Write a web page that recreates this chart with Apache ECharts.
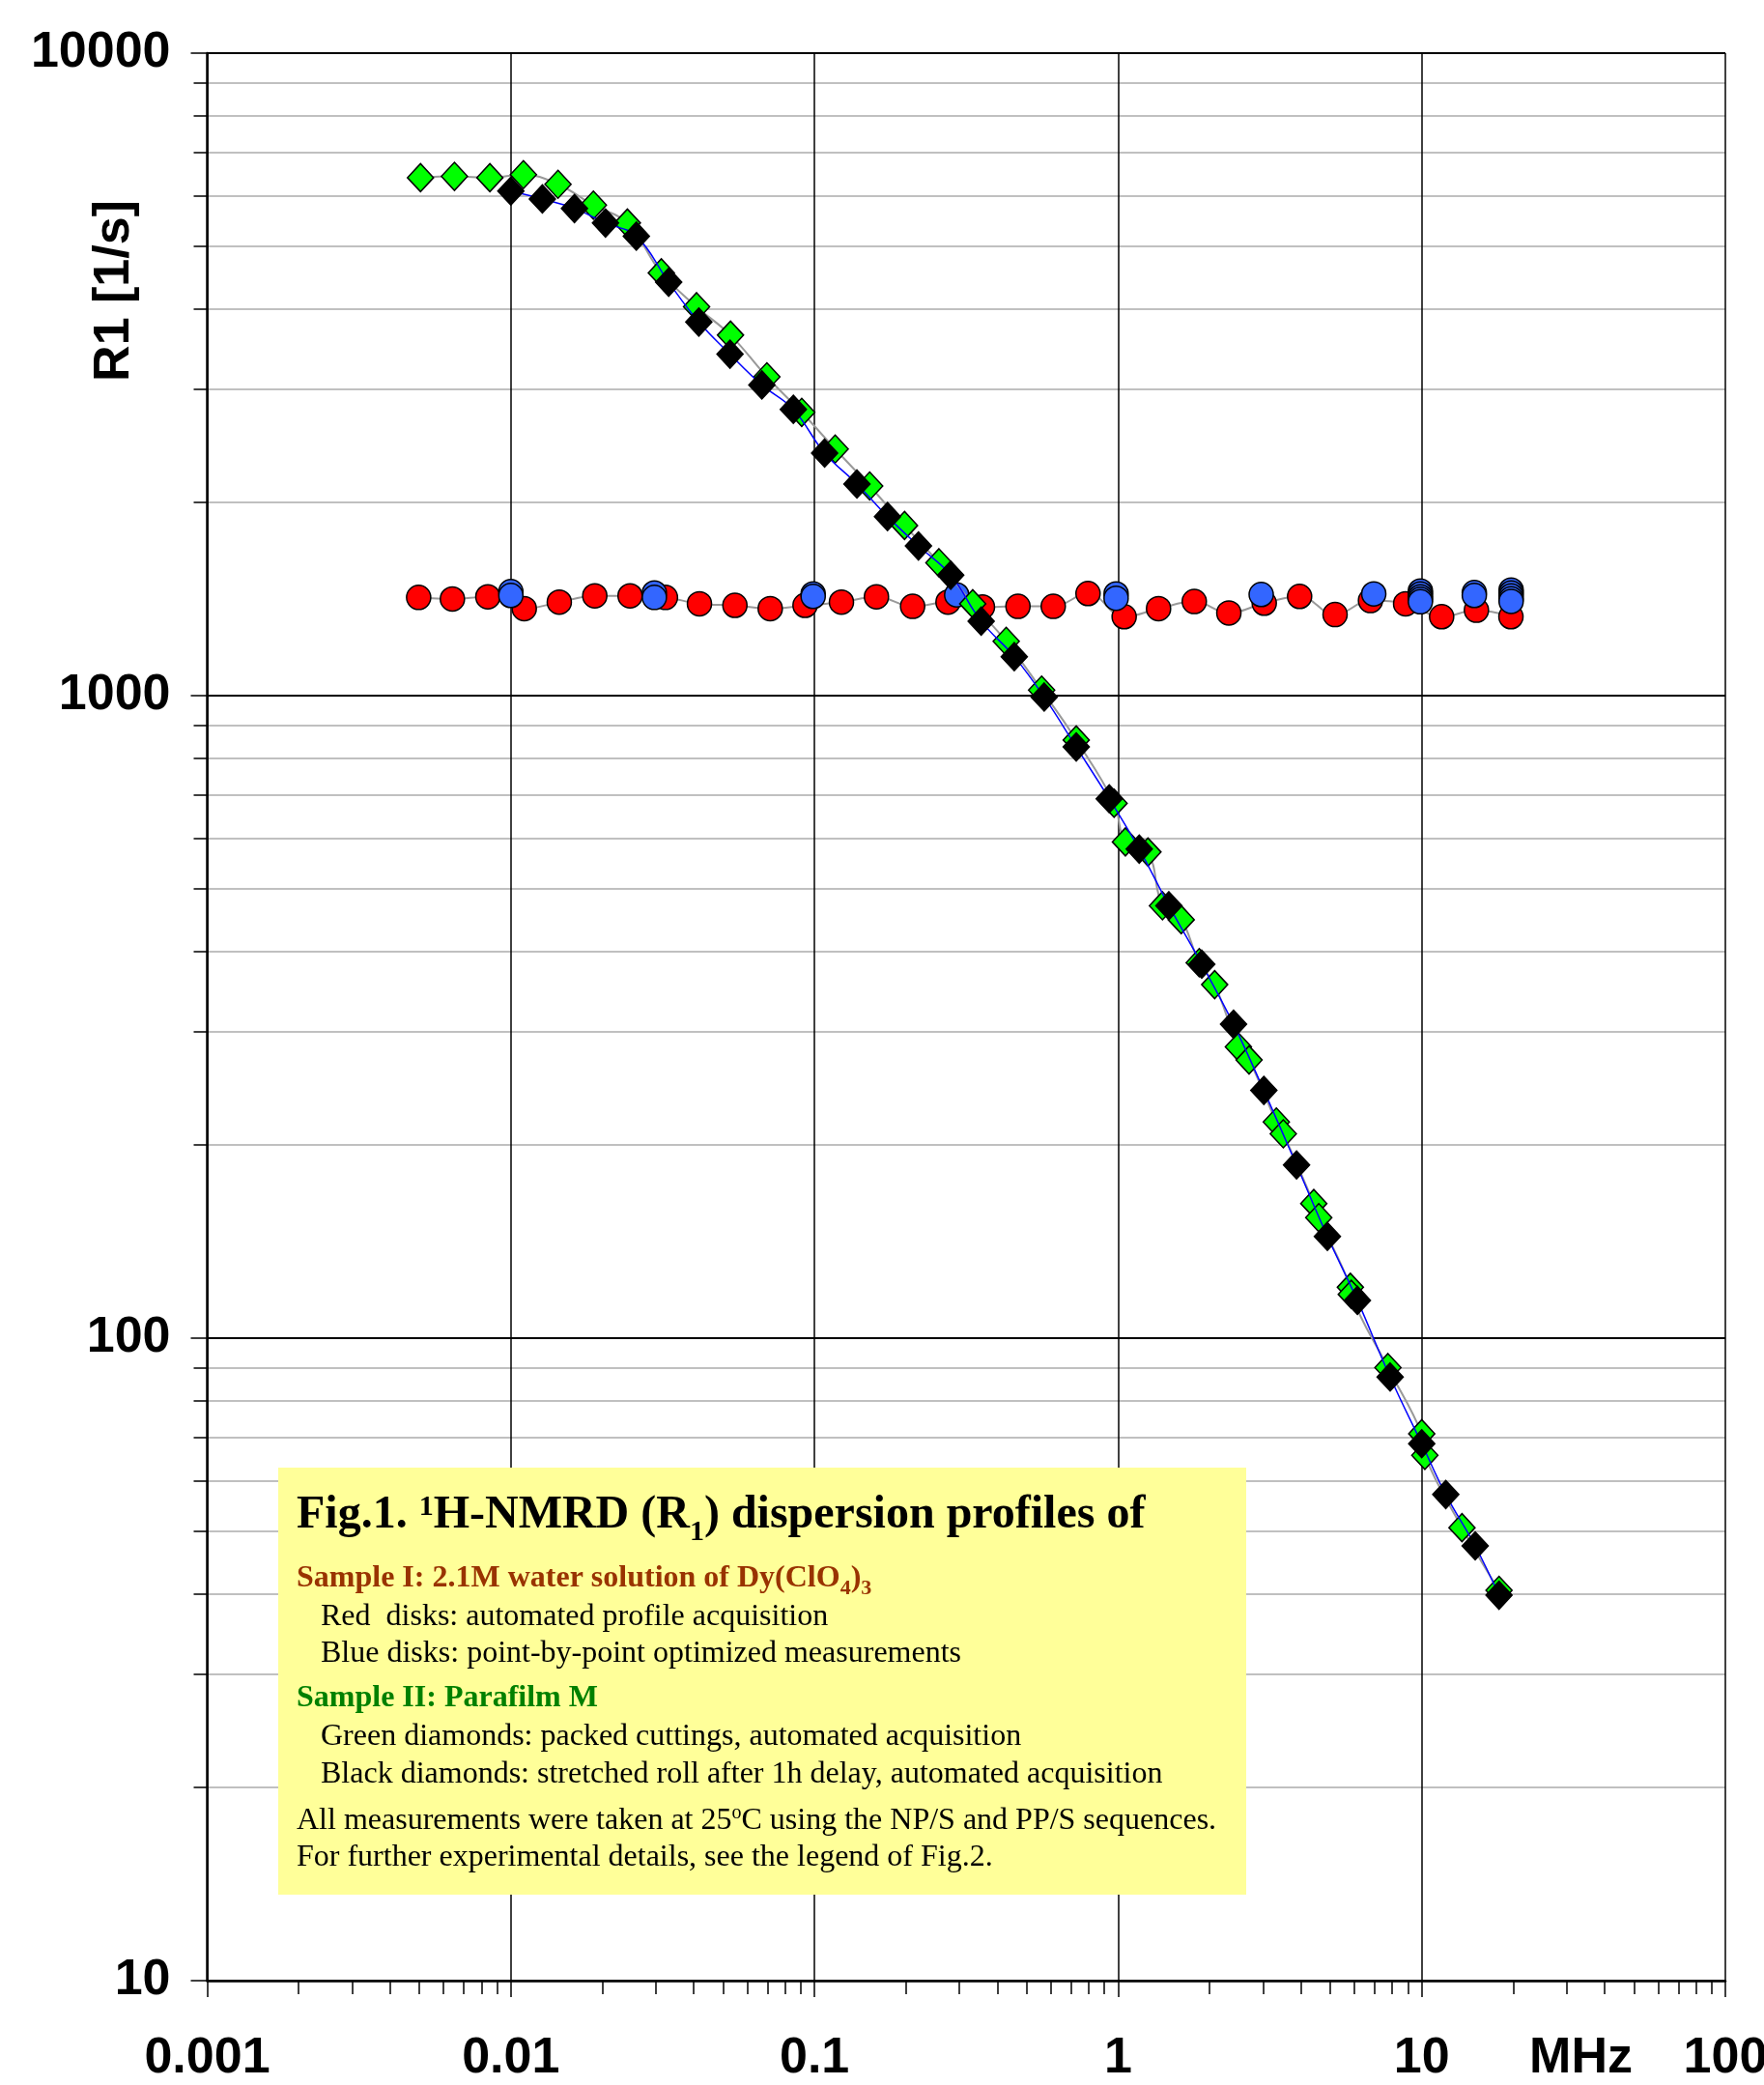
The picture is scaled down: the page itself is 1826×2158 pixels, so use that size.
<!DOCTYPE html>
<html>
<head>
<meta charset="utf-8">
<style>
  html, body { margin: 0; padding: 0; background: #ffffff; }
  #chart { width: 1826px; height: 2158px; }
</style>
<script src="https://cdn.jsdelivr.net/npm/echarts@6/dist/echarts.min.js"></script>
</head>
<body>
<div id="chart"></div>
<script>
// 1H NMRD relaxation rates: [frequency in MHz, R1 in 1/s]

// Sample I, automated profile acquisition
const redDisks = [
  [0.00497, 1422], [0.00642, 1414], [0.0084, 1425], [0.01107, 1366], [0.01444, 1398],
  [0.0189, 1430], [0.0247, 1430], [0.0323, 1422], [0.0418, 1390], [0.0547, 1382],
  [0.0715, 1366], [0.0931, 1382], [0.1227, 1398], [0.160, 1425], [0.2105, 1377],
  [0.2753, 1398], [0.3575, 1374], [0.468, 1377], [0.6115, 1377], [0.796, 1442],
  [1.047, 1327], [1.359, 1366], [1.782, 1401], [2.316, 1345], [3.029, 1393],
  [3.961, 1427], [5.183, 1337], [6.78, 1406], [8.85, 1390], [11.63, 1327],
  [15.14, 1358], [19.67, 1327]
];

// Sample I, point-by-point optimized measurements
const blueDisks = [
  [0.01, 1452], [0.01, 1432], [0.0297, 1445], [0.0297, 1422], [0.099, 1440],
  [0.099, 1427], [0.294, 1435], [0.985, 1440], [0.985, 1418], [2.96, 1437],
  [6.95, 1440], [9.9, 1455], [9.9, 1440], [9.9, 1425], [9.9, 1412], [9.9, 1400],
  [14.9, 1447], [14.9, 1432], [19.7, 1460], [19.7, 1445], [19.7, 1430],
  [19.7, 1415], [19.7, 1402]
];

// Sample II, packed cuttings
const greenDiamonds = [
  [0.00504, 6400], [0.00652, 6430], [0.00853, 6400], [0.0110, 6470], [0.0143, 6250],
  [0.0187, 5800], [0.0242, 5440], [0.0313, 4550], [0.0409, 4030], [0.0529, 3640],
  [0.0697, 3135], [0.0908, 2760], [0.117, 2420], [0.152, 2120], [0.198, 1840],
  [0.257, 1610], [0.332, 1390], [0.428, 1215], [0.560, 1020], [0.728, 853],
  [0.970, 680], [1.057, 592], [1.254, 571], [1.40, 471], [1.614, 448],
  [1.85, 384], [2.08, 355], [2.49, 284], [2.70, 271], [3.32, 217],
  [3.50, 208], [4.41, 162], [4.58, 154], [5.82, 120], [5.86, 117],
  [7.74, 90], [10.0, 71], [10.24, 65.7], [13.57, 50.7], [17.97, 40.5]
];

// Sample II, stretched roll after 1h delay
const blackDiamonds = [
  [0.0100, 6100], [0.0127, 5930], [0.0162, 5730], [0.0205, 5440], [0.0259, 5190],
  [0.0331, 4400], [0.0416, 3815], [0.0527, 3400], [0.0671, 3045], [0.0852, 2790],
  [0.108, 2385], [0.138, 2135], [0.174, 1900], [0.220, 1710], [0.281, 1540],
  [0.354, 1306], [0.455, 1150], [0.571, 995], [0.728, 832], [0.935, 691],
  [1.174, 577], [1.47, 471], [1.886, 382], [2.40, 308], [3.02, 243],
  [3.87, 186], [4.89, 144], [6.14, 114.5], [7.87, 87], [10.0, 68.5],
  [12.0, 57.1], [15.0, 47.5], [17.97, 39.8]
];

// Axis ticks
const xTickLabels = ['0.001', '0.01', '0.1', '1', '10', '100'];
const yTickLabels = ['10', '100', '1000', '10000'];
const xDecades = [0.001, 0.01, 0.1, 1, 10];
const yDecades = [10, 100, 1000];
const minorSteps = [2, 3, 4, 5, 6, 7, 8, 9];

// Minor ticks live on companion linear axes spanning the same decades in log10 units
const xMinorTicks = xDecades.flatMap(d => minorSteps.map(m => Math.log10(m * d)));
const yMinorTicks = yDecades.flatMap(d => minorSteps.map(m => Math.log10(m * d)));

const SANS = '"Liberation Sans", Arial, sans-serif';
const SERIF = '"Liberation Serif", "Times New Roman", serif';

const chart = echarts.init(document.getElementById('chart'), null, { renderer: 'canvas' });

// Caption text laid out run by run (superscripts and subscripts shift the baseline)
const measureCtx = document.createElement('canvas').getContext('2d');
function runWidth(text, size, weight) {
  measureCtx.font = weight + ' ' + size + 'px ' + SERIF;
  return measureCtx.measureText(text).width;
}
function captionLine(x0, baseline, runs) {
  const out = [];
  let x = x0;
  runs.forEach(r => {
    const weight = r.bold ? 'bold' : 'normal';
    const b = baseline + (r.shift || 0);
    out.push({
      type: 'text', x: x, y: b - 0.3375 * r.size, z: 101, silent: true,
      style: {
        text: r.text, fill: r.color || '#000000',
        font: weight + ' ' + r.size + 'px ' + SERIF,
        align: 'left', verticalAlign: 'middle'
      }
    });
    x += runWidth(r.text, r.size, weight);
  });
  return out;
}

const brown = '#993300';
const darkGreen = '#008000';
const captionElements = [].concat(
  captionLine(307, 1585, [
    { text: 'Fig.1. ', size: 48, bold: true },
    { text: '1', size: 30, bold: true, shift: -15 },
    { text: 'H-NMRD (R', size: 48, bold: true },
    { text: '1', size: 30, bold: true, shift: 11 },
    { text: ') dispersion profiles of', size: 48, bold: true }
  ]),
  captionLine(307, 1645, [
    { text: 'Sample I: 2.1M water solution of Dy(ClO', size: 32, bold: true, color: brown },
    { text: '4', size: 22, bold: true, shift: 7, color: brown },
    { text: ')', size: 32, bold: true, color: brown },
    { text: '3', size: 22, bold: true, shift: 7, color: brown }
  ]),
  captionLine(332, 1684, [{ text: 'Red  disks: automated profile acquisition', size: 32 }]),
  captionLine(332, 1722, [{ text: 'Blue disks: point-by-point optimized measurements', size: 32 }]),
  captionLine(307, 1769, [{ text: 'Sample II: Parafilm M', size: 32, bold: true, color: darkGreen }]),
  captionLine(332, 1808, [{ text: 'Green diamonds: packed cuttings, automated acquisition', size: 32 }]),
  captionLine(332, 1847, [{ text: 'Black diamonds: stretched roll after 1h delay, automated acquisition', size: 32 }]),
  captionLine(307, 1895, [
    { text: 'All measurements were taken at 25', size: 32 },
    { text: 'o', size: 20, shift: -12 },
    { text: 'C using the NP/S and PP/S sequences.', size: 32 }
  ]),
  captionLine(307, 1933, [{ text: 'For further experimental details, see the legend of Fig.2.', size: 32 }])
);

const markerBorder = { borderColor: '#000000', borderWidth: 1.5 };

const option = {
  animation: false,
  backgroundColor: '#ffffff',
  grid: {
    left: 214.5, top: 55, right: 40, bottom: 108,
    containLabel: false, outerBoundsMode: 'none',
    show: false
  },
  xAxis: [
    {
      type: 'log', logBase: 10, min: 0.001, max: 100, position: 'bottom',
      axisLine: { show: true, onZero: false, lineStyle: { color: '#000000', width: 2.5 } },
      axisTick: { show: true, inside: false, length: 17, lineStyle: { color: '#000000', width: 1.5 } },
      minorTick: { show: false },
      splitLine: { show: true, lineStyle: { color: '#000000', width: 1.5 } },
      axisLabel: {
        show: true, margin: 55, color: '#000000',
        fontFamily: SANS, fontWeight: 'bold', fontSize: 52,
        formatter: v => xTickLabels[Math.round(Math.log10(v)) + 3]
      }
    },
    {
      type: 'value', min: -3, max: 2, position: 'bottom',
      axisLine: { show: false, onZero: false },
      axisTick: { show: true, inside: false, length: 14, customValues: xMinorTicks,
        lineStyle: { color: '#000000', width: 1.5 } },
      splitLine: { show: false },
      axisLabel: { show: false }
    }
  ],
  yAxis: [
    {
      type: 'log', logBase: 10, min: 10, max: 10000, position: 'left', z: 2,
      axisLine: { show: true, onZero: false, lineStyle: { color: '#000000', width: 2.5 } },
      axisTick: { show: true, inside: false, length: 17, lineStyle: { color: '#000000', width: 1.5 } },
      minorTick: { show: false },
      splitLine: { show: true, lineStyle: { color: '#000000', width: 2 } },
      axisLabel: {
        show: true, margin: 38, color: '#000000',
        fontFamily: SANS, fontWeight: 'bold', fontSize: 52,
        formatter: v => yTickLabels[Math.round(Math.log10(v)) - 1]
      }
    },
    {
      type: 'value', min: 1, max: 4, position: 'left', z: 0,
      axisLine: { show: false, onZero: false },
      axisTick: { show: true, inside: false, length: 14, customValues: yMinorTicks,
        lineStyle: { color: '#000000', width: 1.5 } },
      splitLine: { show: true, lineStyle: { color: '#c0c0c0', width: 2 } },
      axisLabel: { show: false }
    }
  ],
  graphic: [
    {
      type: 'text', x: 118.5, y: 301, rotation: Math.PI / 2, z: 100, silent: true,
      style: { text: 'R1 [1/s]', fill: '#000000', font: 'bold 52px ' + SANS,
        align: 'center', verticalAlign: 'middle' }
    },
    {
      type: 'text', x: 1636.5, y: 2131, z: 100, silent: true,
      style: { text: 'MHz', fill: '#000000', font: 'bold 52px ' + SANS,
        align: 'center', verticalAlign: 'middle' }
    },
    {
      type: 'rect', z: 100, silent: true,
      shape: { x: 288, y: 1519, width: 1002, height: 442 },
      style: { fill: '#ffff99' }
    }
  ].concat(captionElements),
  series: [
    {
      name: 'Red disks', type: 'line', xAxisIndex: 0, yAxisIndex: 0, z: 2,
      data: redDisks, smooth: 0.4, silent: true,
      symbol: 'circle', symbolSize: 25,
      lineStyle: { color: '#999999', width: 2 },
      itemStyle: Object.assign({ color: '#ff0000' }, markerBorder)
    },
    {
      name: 'Blue disks', type: 'scatter', xAxisIndex: 0, yAxisIndex: 0, z: 3,
      data: blueDisks, silent: true,
      symbol: 'circle', symbolSize: 25,
      itemStyle: Object.assign({ color: '#3366ff', opacity: 1 }, markerBorder)
    },
    {
      name: 'Green diamonds', type: 'line', xAxisIndex: 0, yAxisIndex: 0, z: 4,
      data: greenDiamonds, smooth: 0.4, silent: true,
      symbol: 'diamond', symbolSize: [27, 29],
      lineStyle: { color: '#999999', width: 2 },
      itemStyle: Object.assign({ color: '#00ff00' }, markerBorder)
    },
    {
      name: 'Black diamonds', type: 'line', xAxisIndex: 0, yAxisIndex: 0, z: 5,
      data: blackDiamonds, smooth: 0.4, silent: true,
      symbol: 'diamond', symbolSize: [27, 29],
      lineStyle: { color: '#0000ff', width: 1.5 },
      itemStyle: Object.assign({ color: '#000000' }, markerBorder)
    }
  ]
};

chart.setOption(option);
</script>
</body>
</html>
